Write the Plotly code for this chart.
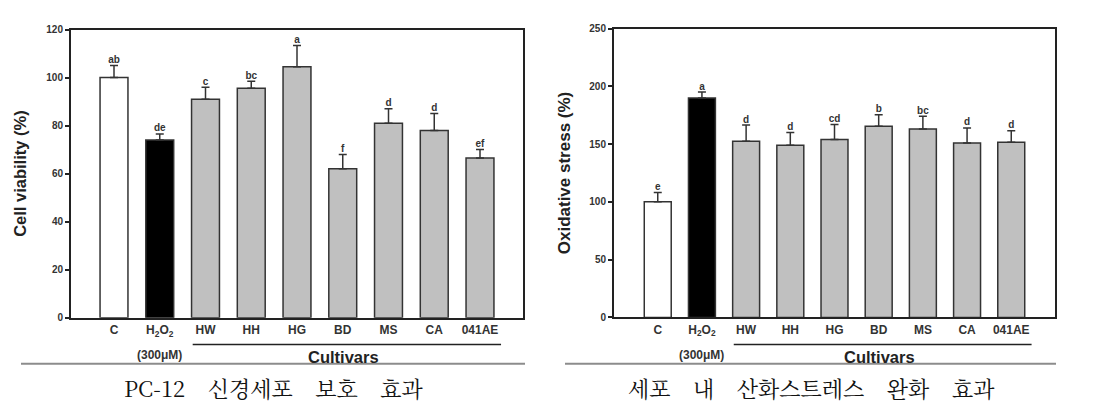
import plotly.graph_objects as go

# ---- data ----
categories = ["C", "H2O2", "HW", "HH", "HG", "BD", "MS", "CA", "041AE"]
tick_labels = ["C", "H<sub>2</sub>O<sub>2</sub>", "HW", "HH", "HG", "BD", "MS", "CA", "041AE"]

viability = [100, 74, 91, 95.5, 104.5, 62, 81, 78, 66.5]
viability_err = [5, 2.5, 5, 3, 8.8, 6, 6, 7, 3.5]
viability_letters = ["ab", "de", "c", "bc", "a", "f", "d", "d", "ef"]

oxidative = [100, 190, 152.5, 149, 154, 165.5, 163, 151, 151.5]
oxidative_err = [8, 5, 14, 11, 13, 10, 11, 13, 10]
oxidative_letters = ["e", "a", "d", "d", "cd", "b", "bc", "d", "d"]

SP = "\u00a0" * 4
captions = ["PC-12" + SP + "신경세포" + SP + "보호" + SP + "효과",
            "세포" + SP + "내" + SP + "산화스트레스" + SP + "완화" + SP + "효과"]
y_titles = ["Cell viability (%)", "Oxidative stress (%)"]

# ---- style ----
FONT = "Arial, Liberation Sans, sans-serif"
KFONT = "Noto Serif CJK KR, Noto Sans CJK KR, sans-serif"
bar_colors = ["#ffffff", "#000000"] + ["#c0c0c0"] * 7
W, H = 1095, 404

def px_y(py):
    return (H - py) / H

fig = go.Figure()

idx = list(range(len(categories)))

for k, (vals, errs, letters, xa, ya) in enumerate([
    (viability, viability_err, viability_letters, "x", "y"),
    (oxidative, oxidative_err, oxidative_letters, "x2", "y2"),
]):
    fig.add_trace(go.Bar(
        x=idx, y=vals, xaxis=xa, yaxis=ya, width=0.61,
        marker=dict(color=bar_colors, line=dict(color="#333333", width=1.5)),
        error_y=dict(type="data", array=errs, arrayminus=[0] * len(errs), symmetric=False,
                     color="#333333", thickness=1.5, width=4),
        showlegend=False, hoverinfo="skip",
    ))
    fig.add_trace(go.Scatter(
        x=idx, y=[v + e for v, e in zip(vals, errs)], xaxis=xa, yaxis=ya,
        mode="text", text=letters, textposition="top center",
        textfont=dict(family=FONT, size=10, color="#333333", weight="bold"),
        showlegend=False, hoverinfo="skip",
    ))

axis_common = dict(showline=True, mirror=True, linecolor="#222222", linewidth=2,
                   showgrid=False, zeroline=False)

fig.update_layout(
    width=W, height=H, margin=dict(l=0, r=0, t=0, b=0),
    paper_bgcolor="white", plot_bgcolor="white",
    xaxis=dict(domain=[63 / W, 515 / W], range=[-0.94, 8.94], tickvals=idx, ticktext=tick_labels,
               ticks="", tickfont=dict(family=FONT, size=12, color="#333333", weight="bold"),
               ticklabelstandoff=0, anchor="y", **axis_common),
    yaxis=dict(domain=[px_y(313), px_y(16)], range=[0, 120], dtick=20, ticks="outside", ticklen=4,
               tickwidth=1.5, tickcolor="#222222",
               tickfont=dict(family=FONT, size=10, color="#333333", weight="bold"),
               title=dict(text=y_titles[0], font=dict(family=FONT, size=16.5, color="#222222", weight="bold"),
                          standoff=16),
               anchor="x", **axis_common),
    xaxis2=dict(domain=[606 / W, 1047 / W], range=[-0.99, 8.99], tickvals=idx, ticktext=tick_labels,
                ticks="", tickfont=dict(family=FONT, size=12, color="#333333", weight="bold"),
                ticklabelstandoff=0, anchor="y2", **axis_common),
    yaxis2=dict(domain=[px_y(312.7), px_y(15)], range=[0, 250], dtick=50, ticks="outside", ticklen=4,
                tickwidth=1.5, tickcolor="#222222",
                tickfont=dict(family=FONT, size=10, color="#333333", weight="bold"),
                title=dict(text=y_titles[1], font=dict(family=FONT, size=17, color="#222222", weight="bold"),
                           standoff=14),
                anchor="x2", **axis_common),
)

shapes = []
annotations = []
for xref, gx0, gx1, cap_x in [("x", 13, 517, 265), ("x2", 557, 1048, 803)]:
    # cultivars bracket line
    shapes.append(dict(type="line", xref=xref, yref="paper", x0=1.72, x1=8.46,
                       y0=px_y(340.7), y1=px_y(340.7), line=dict(color="#222222", width=1.5)))
    # gray divider
    shapes.append(dict(type="line", xref="paper", yref="paper", x0=gx0 / W, x1=gx1 / W,
                       y0=px_y(360.5), y1=px_y(360.5), line=dict(color="#8c8c8c", width=2)))
    annotations.append(dict(xref=xref, yref="paper", x=1, y=px_y(351), text="(300μM)",
                            showarrow=False, xanchor="center", yanchor="middle",
                            font=dict(family=FONT, size=12, color="#333333", weight="bold")))
    annotations.append(dict(xref=xref, yref="paper", x=5.02, y=px_y(353), text="Cultivars",
                            showarrow=False, xanchor="center", yanchor="middle",
                            font=dict(family=FONT, size=16.5, color="#222222", weight="bold")))
    annotations.append(dict(xref="paper", yref="paper", x=cap_x / W, y=px_y(385),
                            text=captions[0] if xref == "x" else captions[1],
                            showarrow=False, xanchor="center", yanchor="middle",
                            font=dict(family=KFONT, size=22, color="#111111")))

fig.update_layout(shapes=shapes, annotations=annotations)
fig.write_html("out.html")
